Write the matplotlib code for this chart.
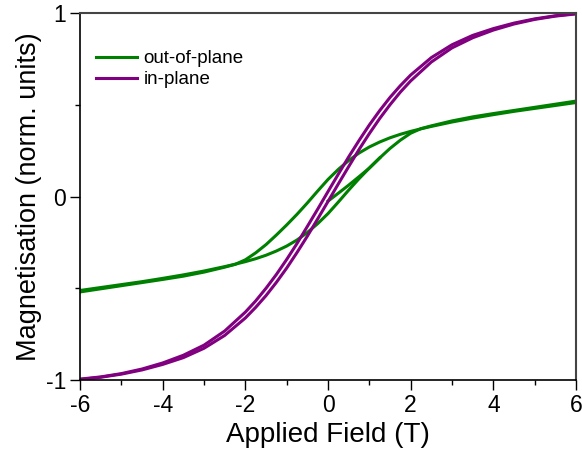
import matplotlib
matplotlib.use("Agg")
import matplotlib.pyplot as plt
from matplotlib.ticker import MultipleLocator

plt.rcParams['font.family'] = ['Liberation Sans', 'DejaVu Sans']
plt.rcParams['axes.unicode_minus'] = False

# out-of-plane loop (green): descending branch, ascending branch, initial curve
oop_down_x = [-6, -5.5, -5, -4.5, -4, -3.5, -3, -2.5, -2.25, -2, -1.75, -1.5, -1.25, -1,
              -0.75, -0.5, -0.25, 0, 0.25, 0.5, 0.75, 1, 1.25, 1.5, 1.75, 2, 2.25, 2.5,
              3, 3.5, 4, 4.5, 5, 5.5, 6]
oop_down_m = [-0.52, -0.503, -0.486, -0.469, -0.452, -0.434, -0.412, -0.385, -0.37, -0.345,
              -0.307, -0.262, -0.21, -0.155, -0.097, -0.035, 0.03, 0.093, 0.148, 0.196,
              0.237, 0.27, 0.297, 0.32, 0.339, 0.355, 0.369, 0.382, 0.406, 0.427, 0.446,
              0.464, 0.48, 0.496, 0.512]
oop_up_x = [-6, -5.5, -5, -4.5, -4, -3.5, -3, -2.5, -2.25, -2, -1.75, -1.5, -1.25, -1,
            -0.75, -0.5, -0.25, 0, 0.25, 0.5, 0.75, 1, 1.25, 1.5, 1.75, 2, 2.25, 2.5,
            3, 3.5, 4, 4.5, 5, 5.5, 6]
oop_up_m = [-0.512, -0.496, -0.48, -0.464, -0.446, -0.427, -0.406, -0.382, -0.369, -0.355,
            -0.339, -0.32, -0.297, -0.27, -0.237, -0.196, -0.148, -0.093, -0.03, 0.035,
            0.097, 0.155, 0.21, 0.262, 0.307, 0.345, 0.37, 0.385, 0.412, 0.434, 0.452,
            0.469, 0.486, 0.503, 0.52]
oop_init_x = [0, 0.25, 0.5, 0.75, 1.0, 1.25]
oop_init_m = [-0.025, 0.018, 0.062, 0.108, 0.155, 0.21]

# in-plane loop (purple)
ip_down_x = [-6, -5.5, -5, -4.5, -4, -3.5, -3, -2.5, -2, -1.75, -1.5, -1.25, -1, -0.75,
             -0.5, -0.25, 0, 0.25, 0.5, 0.75, 1, 1.25, 1.5, 1.75, 2, 2.5, 3, 3.5, 4,
             4.5, 5, 5.5, 6]
ip_down_m = [-0.995, -0.983, -0.965, -0.94, -0.907, -0.865, -0.81, -0.733, -0.63, -0.569,
             -0.5, -0.425, -0.343, -0.256, -0.163, -0.069, 0.027, 0.122, 0.216, 0.305,
             0.39, 0.468, 0.54, 0.604, 0.662, 0.757, 0.827, 0.878, 0.915, 0.945, 0.968,
             0.985, 0.997]
ip_up_x = [-6, -5.5, -5, -4.5, -4, -3.5, -3, -2.5, -2, -1.75, -1.5, -1.25, -1, -0.75,
           -0.5, -0.25, 0, 0.25, 0.5, 0.75, 1, 1.25, 1.5, 1.75, 2, 2.5, 3, 3.5, 4,
           4.5, 5, 5.5, 6]
ip_up_m = [-0.997, -0.985, -0.968, -0.945, -0.915, -0.878, -0.827, -0.757, -0.662, -0.604,
           -0.54, -0.468, -0.39, -0.305, -0.216, -0.122, -0.027, 0.069, 0.163, 0.256,
           0.343, 0.425, 0.5, 0.569, 0.63, 0.733, 0.81, 0.865, 0.907, 0.94, 0.965,
           0.983, 0.995]

green = "#008000"
purple = "#800080"

fig = plt.figure(figsize=(5.82, 4.53), dpi=100)
ax = fig.add_axes([0.1375, 0.1611, 0.8522, 0.8102])

lw = 2.2
ax.plot(oop_down_x, oop_down_m, color=green, lw=lw, label="out-of-plane")
ax.plot(oop_up_x, oop_up_m, color=green, lw=lw)
ax.plot(oop_init_x, oop_init_m, color=green, lw=lw)
ax.plot(ip_down_x, ip_down_m, color=purple, lw=lw, label="in-plane")
ax.plot(ip_up_x, ip_up_m, color=purple, lw=lw)

ax.set_xlim(-6, 6)
ax.set_ylim(-1, 1)
ax.xaxis.set_major_locator(MultipleLocator(2))
ax.xaxis.set_minor_locator(MultipleLocator(1))
ax.yaxis.set_major_locator(MultipleLocator(1))
ax.yaxis.set_minor_locator(MultipleLocator(0.5))
ax.tick_params(which="major", direction="out", length=7, width=1, labelsize=16.5, pad=3)
ax.tick_params(which="minor", direction="out", length=3.7, width=1)
ax.tick_params(top=False, right=False)
for side in ("top", "right"):
    ax.spines[side].set_color("#444444")
    ax.spines[side].set_linewidth(1.5)
for side in ("left", "bottom"):
    ax.spines[side].set_linewidth(1.2)

ax.set_xlabel("Applied Field (T)", fontsize=20, labelpad=4)
ax.set_ylabel("Magnetisation (norm. units)", fontsize=19.5, labelpad=3)

ax.legend(loc="upper left", frameon=False, fontsize=13.5, handlelength=2.2,
          handletextpad=0.35, labelspacing=0.2, borderpad=0, borderaxespad=0,
          bbox_to_anchor=(0.032, 0.899))

fig.savefig("out.png", dpi=100)
